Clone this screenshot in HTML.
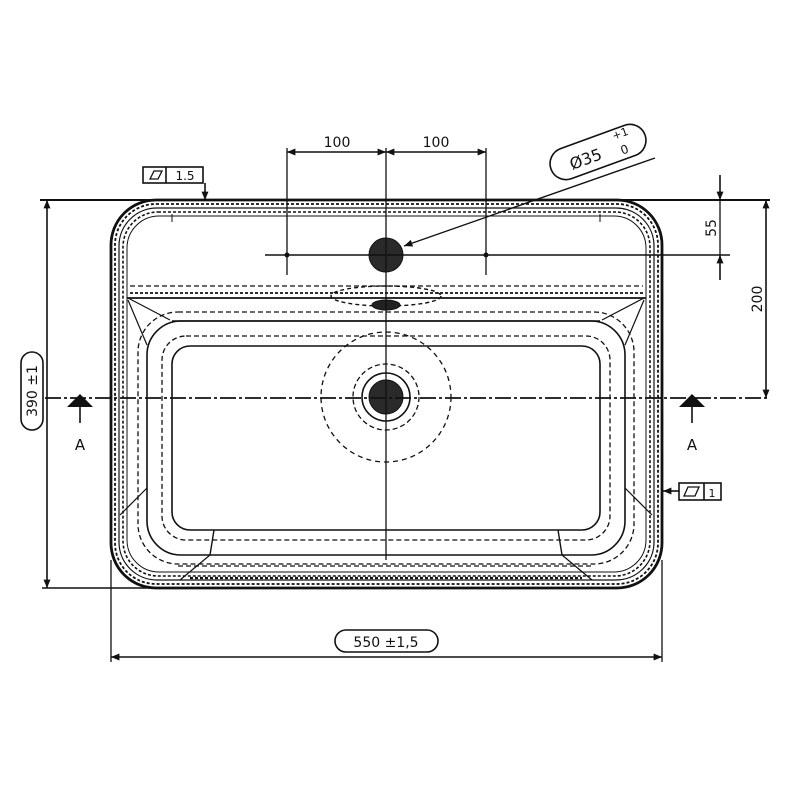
<!DOCTYPE html>
<html><head><meta charset="utf-8"><style>body{margin:0;background:#fff}svg{display:block}text{font-family:"DejaVu Sans","Liberation Sans",sans-serif;fill:#111}</style></head><body>
<svg width="800" height="800" viewBox="0 0 800 800" xmlns="http://www.w3.org/2000/svg">
<defs>
<marker id="ar" viewBox="0 0 12 10" refX="12" refY="5" markerWidth="12" markerHeight="7" orient="auto-start-reverse" markerUnits="userSpaceOnUse"><path d="M0,0 L12,5 L0,10 Z" fill="#111"/></marker>
</defs>
<g fill="none" stroke="#111">
<rect x="111" y="200" width="551" height="388" rx="45" stroke-width="2.8"/>
<rect x="115" y="204" width="543" height="380" rx="41" stroke-width="1.8" stroke-dasharray="3 2"/>
<rect x="119" y="208" width="535" height="372" rx="38" stroke-width="1.2"/>
<rect x="123" y="212" width="527" height="364" rx="35" stroke-width="1.6" stroke-dasharray="3 2"/>
<rect x="127" y="216" width="519" height="356" rx="32" stroke-width="1"/>
<line x1="127" y1="298" x2="646" y2="298" stroke-width="1.8"/>
<line x1="130" y1="286" x2="643" y2="286" stroke-width="1.2" stroke-dasharray="5 3"/>
<line x1="130" y1="293" x2="643" y2="293" stroke-width="1.8" stroke-dasharray="3 2"/>
<line x1="172" y1="214" x2="172" y2="222" stroke-width="1"/>
<line x1="600" y1="214" x2="600" y2="222" stroke-width="1"/>
<ellipse cx="386" cy="296" rx="55" ry="10" stroke-dasharray="4 3" stroke-width="1.4"/>
<ellipse cx="386" cy="305" rx="14" ry="5" fill="#222" stroke-width="1"/>
<rect x="172" y="346" width="428" height="184" rx="18" stroke-width="1.6"/>
<rect x="162" y="336" width="448" height="204" rx="24" stroke-width="1.3" stroke-dasharray="5 3"/>
<rect x="147" y="321" width="478" height="234" rx="34" stroke-width="1.6"/>
<rect x="138" y="312" width="496" height="252" rx="40" stroke-width="1.3" stroke-dasharray="5 3"/>
<line x1="172" y1="321" x2="600" y2="321" stroke-width="1.6"/>
<line x1="214" y1="530" x2="210" y2="555" stroke-width="1.4"/>
<line x1="558" y1="530" x2="562" y2="555" stroke-width="1.4"/>
<line x1="210" y1="555" x2="180" y2="580" stroke-width="1.2"/>
<line x1="562" y1="555" x2="592" y2="580" stroke-width="1.2"/>
<line x1="128" y1="298" x2="170" y2="320" stroke-width="1.2"/>
<line x1="644" y1="298" x2="602" y2="320" stroke-width="1.2"/>
<line x1="128" y1="300" x2="147" y2="345" stroke-width="1.2"/>
<line x1="644" y1="300" x2="625" y2="345" stroke-width="1.2"/>
<line x1="147" y1="488" x2="120" y2="515" stroke-width="1.2"/>
<line x1="625" y1="488" x2="652" y2="515" stroke-width="1.2"/>
<line x1="190" y1="578" x2="582" y2="578" stroke-width="2.2" stroke-dasharray="3 2"/>
<line x1="178" y1="566" x2="594" y2="566" stroke-width="1.2" stroke-dasharray="5 3"/>
<circle cx="386" cy="397" r="65" stroke-dasharray="5 4" stroke-width="1.3"/>
<circle cx="386" cy="397" r="33" stroke-dasharray="5 3" stroke-width="1.3"/>
<circle cx="386" cy="397" r="24" stroke-width="1.6"/>
<circle cx="386" cy="397" r="17" fill="#2a2a2a"/>
<circle cx="386" cy="255" r="17" fill="#2a2a2a"/>
<line x1="386" y1="148" x2="386" y2="560" stroke-width="1.3"/>
<line x1="45" y1="398" x2="770" y2="398" stroke-width="1.8" stroke-dasharray="16 3 3 3"/>
<line x1="265" y1="255" x2="730" y2="255" stroke-width="1.6"/>
<line x1="40" y1="200" x2="770" y2="200" stroke-width="2"/>
<line x1="42" y1="588" x2="160" y2="588" stroke-width="1.6"/>
<line x1="287" y1="148" x2="287" y2="275" stroke-width="1.3"/>
<line x1="486" y1="148" x2="486" y2="275" stroke-width="1.3"/>
<line x1="287" y1="152" x2="386" y2="152" stroke-width="1.6" marker-start="url(#ar)" marker-end="url(#ar)"/>
<line x1="386" y1="152" x2="486" y2="152" stroke-width="1.6" marker-start="url(#ar)" marker-end="url(#ar)"/>
<circle cx="287" cy="255" r="2" fill="#111"/><circle cx="486" cy="255" r="2" fill="#111"/>
<line x1="655" y1="158" x2="404" y2="246" stroke-width="1.4" marker-end="url(#ar)"/>
<line x1="766" y1="200" x2="766" y2="398" stroke-width="1.6" marker-start="url(#ar)" marker-end="url(#ar)"/>
<line x1="720" y1="175" x2="720" y2="200" stroke-width="1.6" marker-end="url(#ar)"/>
<line x1="720" y1="280" x2="720" y2="255" stroke-width="1.6" marker-end="url(#ar)"/>
<line x1="720" y1="200" x2="720" y2="255" stroke-width="1.3"/>
<line x1="47" y1="200" x2="47" y2="588" stroke-width="1.6" marker-start="url(#ar)" marker-end="url(#ar)"/>
<line x1="111" y1="560" x2="111" y2="662" stroke-width="1.3"/>
<line x1="662" y1="560" x2="662" y2="662" stroke-width="1.3"/>
<line x1="111" y1="657" x2="662" y2="657" stroke-width="1.6" marker-start="url(#ar)" marker-end="url(#ar)"/>
<line x1="80" y1="405" x2="80" y2="423" stroke-width="1.6"/>
<line x1="692" y1="405" x2="692" y2="423" stroke-width="1.6"/>
<rect x="143" y="167" width="60" height="16" stroke-width="1.6"/>
<line x1="166" y1="167" x2="166" y2="183" stroke-width="1.6"/>
<path d="M150,179 L154,171 L162,171 L158,179 Z" stroke-width="1.3"/>
<line x1="205" y1="183" x2="205" y2="200" stroke-width="1.6" marker-end="url(#ar)"/>
<rect x="679" y="483" width="42" height="17" stroke-width="1.6"/>
<line x1="704" y1="483" x2="704" y2="500" stroke-width="1.6"/>
<path d="M684,496 L688,487 L699,487 L695,496 Z" stroke-width="1.3"/>
<line x1="679" y1="491" x2="663" y2="491" stroke-width="1.6" marker-end="url(#ar)"/>
<rect x="335" y="630" width="103" height="22" rx="11" stroke-width="1.6"/>
<rect x="21" y="352" width="22" height="78" rx="11" stroke-width="1.6"/>
<g transform="rotate(-20 598 152)"><rect x="548" y="136" width="100" height="32" rx="16" stroke-width="1.6"/></g>
</g>
<polygon points="80,394 67,407 93,407" fill="#111"/>
<polygon points="692,394 679,407 705,407" fill="#111"/>
<text x="80" y="450" font-size="15" text-anchor="middle">A</text>
<text x="692" y="450" font-size="15" text-anchor="middle">A</text>
<text x="337" y="147" font-size="14" text-anchor="middle">100</text>
<text x="436" y="147" font-size="14" text-anchor="middle">100</text>
<text x="185" y="180" font-size="12" text-anchor="middle">1.5</text>
<text x="712" y="497" font-size="11" text-anchor="middle">1</text>
<text x="386" y="647" font-size="14" text-anchor="middle">550 ±1,5</text>
<text transform="translate(37,391) rotate(-90)" font-size="14" text-anchor="middle">390 ±1</text>
<text transform="translate(716,228) rotate(-90)" font-size="14" text-anchor="middle">55</text>
<text transform="translate(762,299) rotate(-90)" font-size="14" text-anchor="middle">200</text>
<g transform="rotate(-20 598 152)"><text x="584" y="160" font-size="16" text-anchor="middle">Ø35</text><text x="617" y="146" font-size="11">+1</text><text x="620" y="163" font-size="12">0</text></g>
</svg>
</body></html>
